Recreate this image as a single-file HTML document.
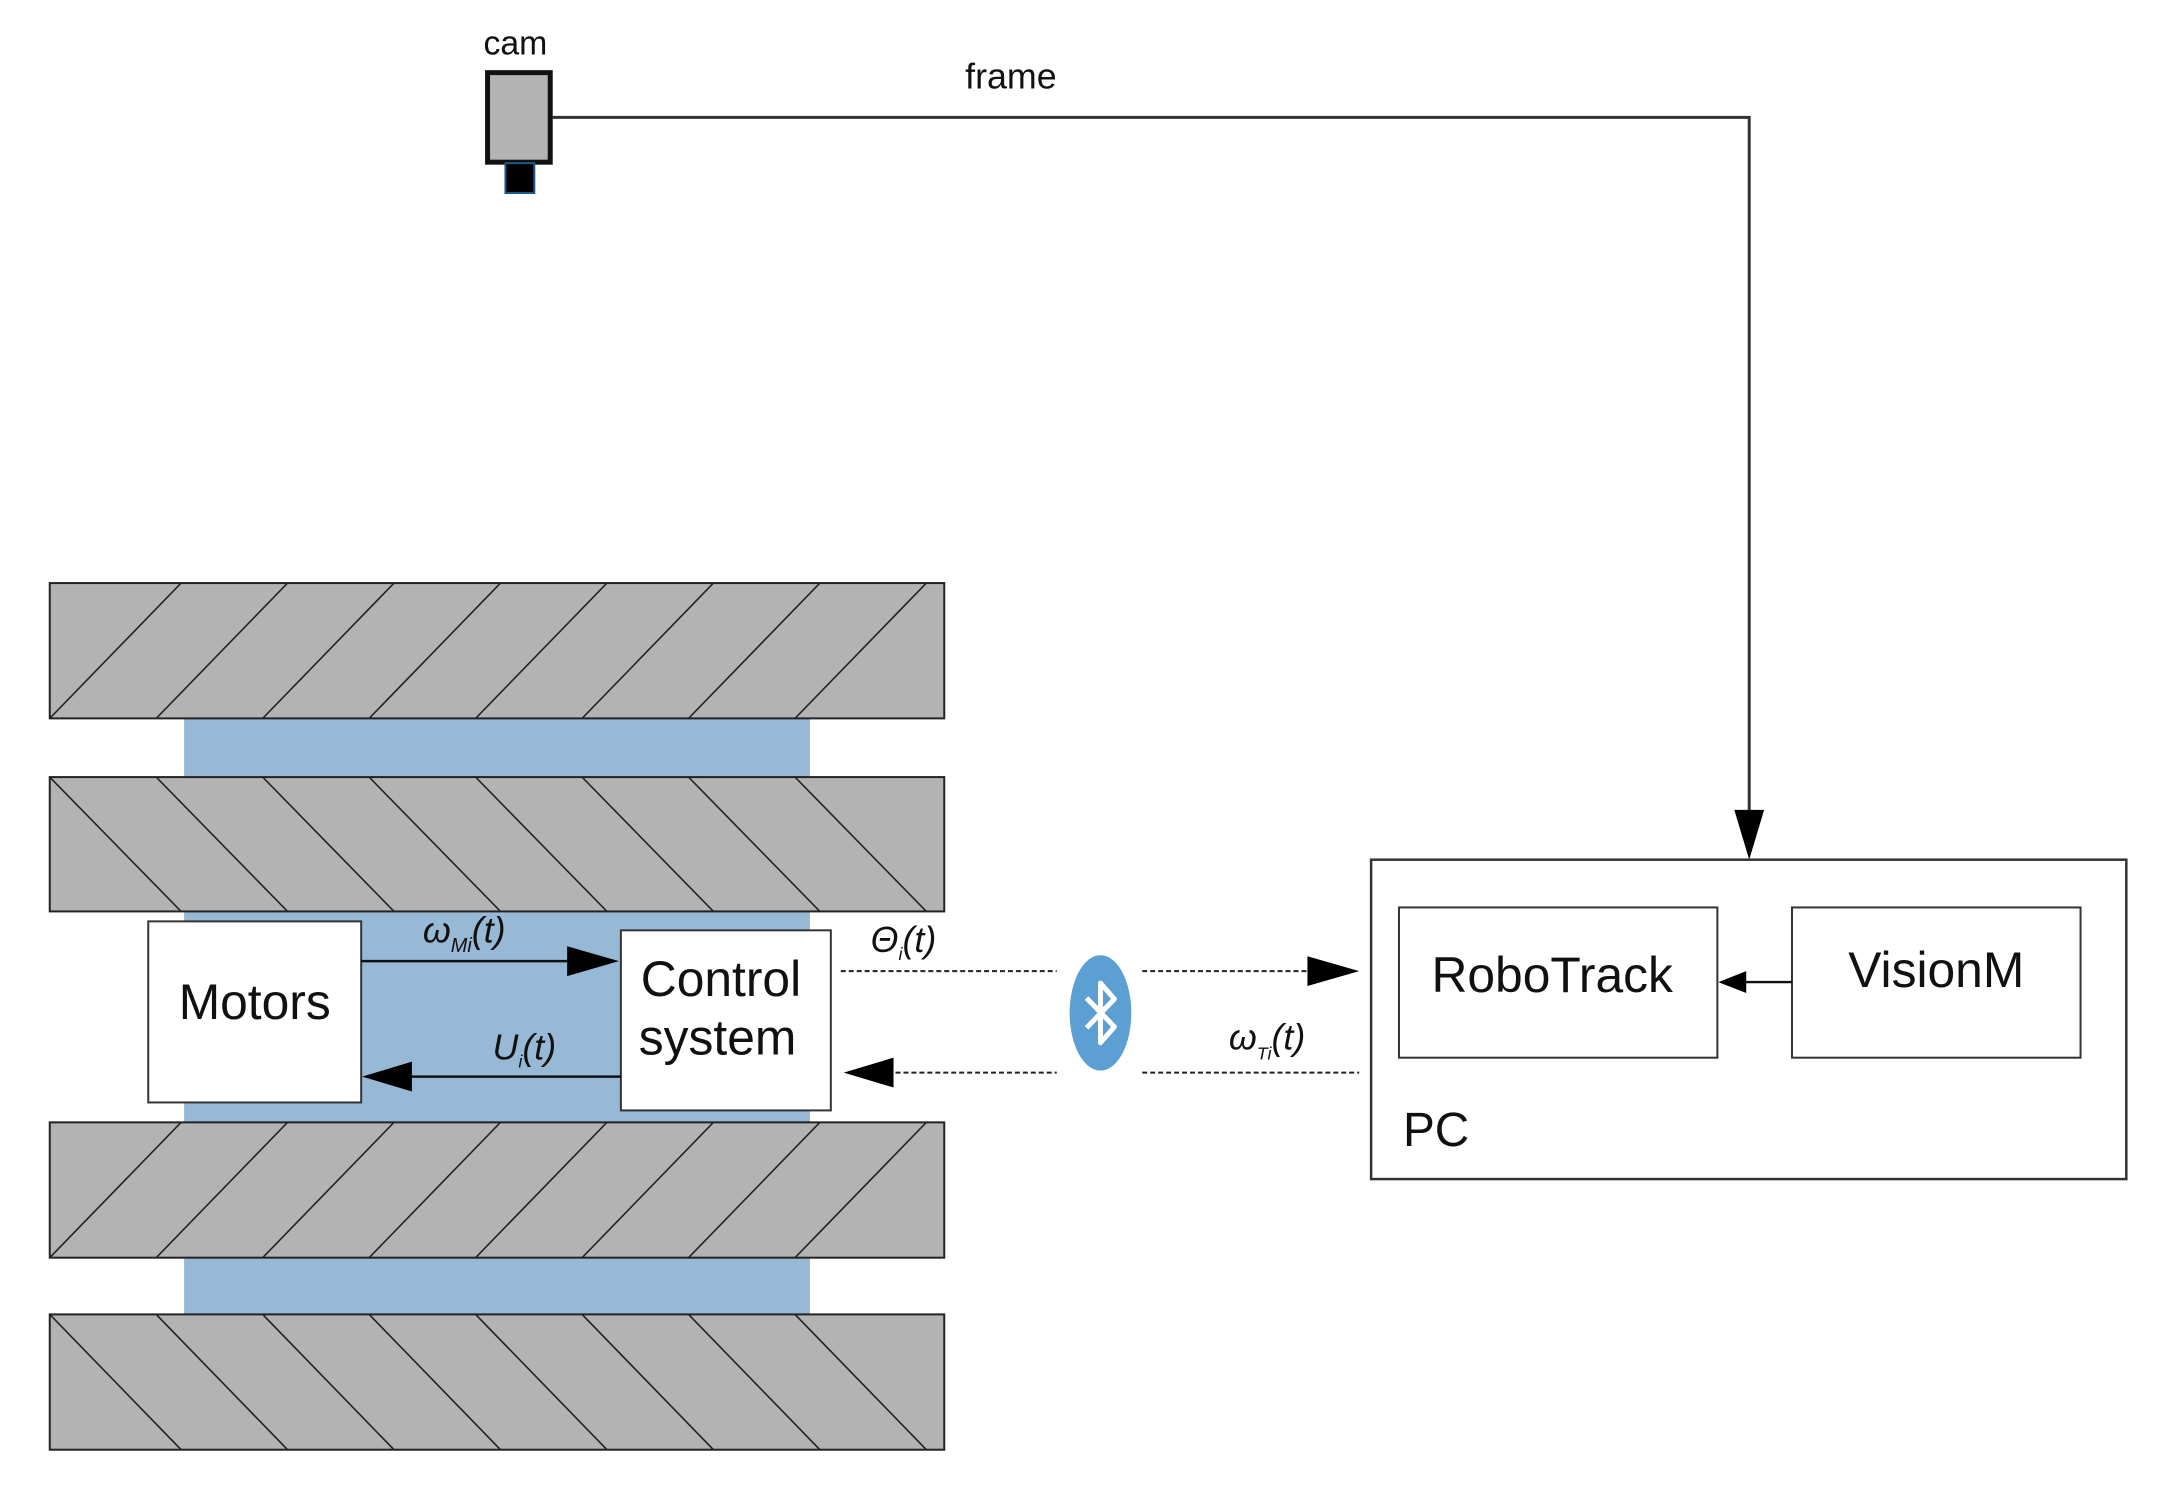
<!DOCTYPE html>
<html><head><meta charset="utf-8"><style>
html,body{margin:0;padding:0;background:#fff;}
svg{display:block;}
text{font-family:"Liberation Sans",sans-serif;fill:#111;}
</style></head><body>
<svg width="2172" height="1496" viewBox="0 0 2172 1496" xmlns="http://www.w3.org/2000/svg">
<defs>
<clipPath id="c1"><rect x="50" y="586" width="899" height="136"/></clipPath>
<clipPath id="c2"><rect x="50" y="781" width="899" height="135"/></clipPath>
<clipPath id="c3"><rect x="50" y="1128" width="899" height="136"/></clipPath>
<clipPath id="c4"><rect x="50" y="1321" width="899" height="136"/></clipPath>
</defs>
<g transform="scale(0.995)">
<rect x="185" y="720" width="629" height="603" fill="#97b9d6"/>
<g stroke="#222" stroke-width="2">
<rect x="50" y="586" width="899" height="136" fill="#b3b3b3"/>
<rect x="50" y="781" width="899" height="135" fill="#b3b3b3"/>
<rect x="50" y="1128" width="899" height="136" fill="#b3b3b3"/>
<rect x="50" y="1321" width="899" height="136" fill="#b3b3b3"/>
</g>
<g stroke="#222" stroke-width="1.6">
<g clip-path="url(#c1)">
<path d="M50 722L182 586M157 722L289 586M264 722L396 586M371 722L503 586M478 722L610 586M585 722L717 586M692 722L824 586M799 722L931 586"/>
</g>
<g clip-path="url(#c2)">
<path d="M50 781L182 916M157 781L289 916M264 781L396 916M371 781L503 916M478 781L610 916M585 781L717 916M692 781L824 916M799 781L931 916"/>
</g>
<g clip-path="url(#c3)">
<path d="M50 1264L182 1128M157 1264L289 1128M264 1264L396 1128M371 1264L503 1128M478 1264L610 1128M585 1264L717 1128M692 1264L824 1128M799 1264L931 1128"/>
</g>
<g clip-path="url(#c4)">
<path d="M50 1321L182 1457M157 1321L289 1457M264 1321L396 1457M371 1321L503 1457M478 1321L610 1457M585 1321L717 1457M692 1321L824 1457M799 1321L931 1457"/>
</g>
</g>
<rect x="149" y="926" width="214" height="182" fill="#fff" stroke="#333" stroke-width="2"/>
<text x="256" y="1024" font-size="50" text-anchor="middle">Motors</text>
<rect x="624" y="935" width="211" height="181" fill="#fff" stroke="#333" stroke-width="2"/>
<text x="644" y="1001" font-size="50">Control</text>
<text x="642" y="1060" font-size="50">system</text>
<line x1="363" y1="966" x2="580" y2="966" stroke="#111" stroke-width="2.5"/>
<polygon points="622,966 570,951 570,981" fill="#000"/>
<line x1="400" y1="1082" x2="624" y2="1082" stroke="#111" stroke-width="2.5"/>
<polygon points="364,1082 414,1067 414,1097" fill="#000"/>
<text x="425" y="947" font-size="36" font-style="italic">ω<tspan font-size="20" dy="10">Mi</tspan><tspan dy="-10">(t)</tspan></text>
<text x="495" y="1065" font-size="36" font-style="italic">U<tspan font-size="18" dy="8">i</tspan><tspan dy="-8">(t)</tspan></text>
<text x="875" y="957" font-size="36" font-style="italic">Θ<tspan font-size="18" dy="8">i</tspan><tspan dy="-8">(t)</tspan></text>
<text x="1235" y="1055" font-size="36" font-style="italic">ω<tspan font-size="18" dy="10">Ti</tspan><tspan dy="-10">(t)</tspan></text>
<g stroke="#222" stroke-width="2" stroke-dasharray="5,3">
<line x1="845" y1="976" x2="1062" y2="976"/>
<line x1="1148" y1="976" x2="1320" y2="976"/>
<line x1="900" y1="1078" x2="1062" y2="1078"/>
<line x1="1148" y1="1078" x2="1366" y2="1078"/>
</g>
<polygon points="1366,976 1314,961 1314,991" fill="#000"/>
<polygon points="848,1078 898,1063 898,1093" fill="#000"/>
<ellipse cx="1106" cy="1018" rx="31" ry="58" fill="#5b9fd3"/>
<path d="M1092 1003 L1120 1032 L1106 1048 L1106 988 L1120 1004 L1092 1033" fill="none" stroke="#fff" stroke-width="5" stroke-linejoin="round"/>
<rect x="1378" y="864" width="759" height="321" fill="#fff" stroke="#333" stroke-width="2.5"/>
<rect x="1406" y="912" width="320" height="151" fill="#fff" stroke="#333" stroke-width="2"/>
<rect x="1801" y="912" width="290" height="151" fill="#fff" stroke="#333" stroke-width="2"/>
<text x="1560" y="997" font-size="50" text-anchor="middle">RoboTrack</text>
<text x="1946" y="992" font-size="50" text-anchor="middle">VisionM</text>
<text x="1410" y="1152" font-size="48">PC</text>
<line x1="1750" y1="987" x2="1801" y2="987" stroke="#111" stroke-width="2.5"/>
<polygon points="1727,987 1755,976 1755,998" fill="#000"/>
<text x="518" y="55" font-size="34" text-anchor="middle">cam</text>
<rect x="490" y="73" width="63" height="90" fill="#b3b3b3" stroke="#111" stroke-width="5"/>
<rect x="508" y="164" width="29" height="30" fill="#000" stroke="#1a5a8a" stroke-width="2"/>
<text x="1016" y="89" font-size="36" text-anchor="middle">frame</text>
<polyline points="555,118 1758,118 1758,830" fill="none" stroke="#333" stroke-width="3"/>
<polygon points="1758,864 1743,814 1773,814" fill="#000"/>
</g>
</svg>
</body></html>
